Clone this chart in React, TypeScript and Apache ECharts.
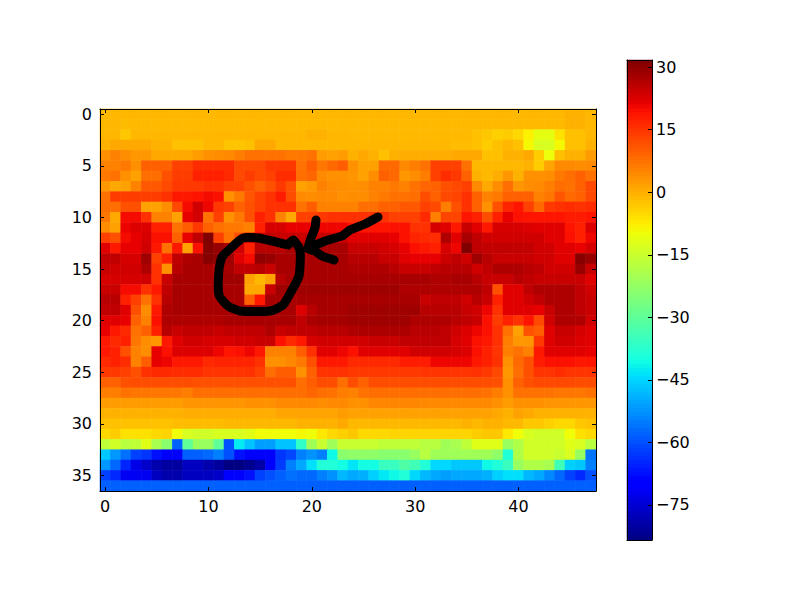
import React, { useEffect, useRef } from "react";
import * as echarts from "echarts";

const columns = Array.from({ length: 48 }, (_, i) => String(i));
const rowNames = Array.from({ length: 37 }, (_, i) => String(i));
const vMin = -83.4;
const vMax = 31.7;
const barTicks = [-75, -60, -45, -30, -15, 0, 15, 30];

const r0 = [-1,-1,-1,-1,-1,-1,-1,-1,-1,-1,-1,-1,-1,-1,-1,-1,-1,-1,-1,-1,-1,-1,-1,-1,-1,-1,-1,-1,-1,-1,-1,-1,-1,-1,-1,-1,-1,-1,-1,-1,-1,-1,-1,-1,-1,-0.3,-0.3,-1];
const r1 = [-1,-1,-1.5,-1.3,-1.3,-1.3,-1.3,-1.3,-1.3,-1.3,-1.3,-1.3,-1.3,-1.3,-1.3,-1.3,-1.3,-1.3,-1.3,-1.3,-1.3,-1.3,-1.3,-1.3,-1.3,-1.3,-1.3,-1.3,-1.3,-1.3,-1.3,-1.3,-1.3,-1.3,-1.3,-1.3,-1.3,-1.3,-1.3,-1.3,-1.3,-1.3,-1.3,-1.3,-1.3,-0.2,-0.2,-1];
const r2 = [-1,-1,-3,-1,-1,-1,-1,-1,-1,-1,-1,-1,-1,-1,-1,-1,-1,-1,-1,-1,-0.3,-0.3,-1,-1,-1.3,-1.3,-1.3,-1.3,-1.3,-1.3,-1.3,-1.3,-1.3,-1.3,-1.3,-1.3,-2,-3,-4,-3.5,-5,-8,-11,-11,-6,-2,-2,-1];
const r3 = [-0.2,0.8,0.8,0.8,0.8,-0.2,-0.5,-2,-2,-2,-1,-1,-2.5,-2.5,-2,0.8,0.8,-1,-1,-1,-1,-1,-1,-1,-1,-1,-1,-1,-1,-1,-1,-1,-1,-1,-1.6,-1.6,-2,-3.5,-2,-1,-2,-9,-13,-13,-9,-2,-2,-0.2];
const r4 = [3.7,5.7,4.2,2.8,2.8,0.8,0.8,0.8,0.8,2.3,3.7,4.2,4.7,6,7.6,7.6,7.6,7.6,6.7,6.7,7.6,2.3,1.8,2.3,-0.2,0.8,-0.2,-2,-0.2,0.3,0.3,0.3,0.3,0.3,0.8,0.8,0.8,-2,-2,-0.2,-0.2,0.8,-3.5,-10,-2,-0.2,-0.2,2.3];
const r5 = [5.7,5.7,6.7,3.7,9.6,9.6,9.6,13.5,13.5,16,16,16,16,12.5,12.5,12.5,14.5,14.5,14.5,7.6,10,7,8.6,10,3.7,1.8,1.8,8.6,8.6,4.7,6,7.6,13.5,13.5,13.5,7.6,-1.1,-1.1,-1.1,-1.1,-1.1,-0.2,-3.5,1.3,4.7,4.7,4.2,4.7];
const r6 = [6.7,7.6,3.7,1.8,8,8,11.5,14,14,17.4,17.4,17.4,16.4,12.5,14,12.5,13.5,16,16,8,9,4.7,3.7,3.7,3.2,1.8,4.2,9.6,8.6,2.8,4.2,6,13.5,16,14.5,9.6,-0.2,-1.1,0.3,2.8,-0.2,3.7,3.7,4.2,6.7,8,9.6,7.6];
const r7 = [2.8,0.8,1.8,5.7,10.6,10.6,12.5,14.5,14.5,14.5,15.4,15.4,13.5,13.5,11.5,9.6,11.5,14.5,11.5,1.8,2.8,5.7,4.7,4.2,3.7,4.2,5.7,5.7,6.7,5.7,7.6,9,9.6,11.5,12.5,13.5,4.7,0.8,4.2,8,3.2,4.2,4.7,6,8,7.6,9.6,12.5];
const r8 = [7.6,14,14,14,14,14,15.4,18.4,18.4,19,20,19.3,3.7,6.7,11,13.5,15.4,18,12,4.7,4.2,4.7,4.7,3.7,4.2,4.2,5.7,6.7,7.6,7.6,8,12,9.6,12.5,13,15.4,9.6,5.7,6.7,9.6,9.6,9.6,5.7,7,11,8.6,9.6,12.5];
const r9 = [8,8,11.5,11.5,1.8,1.8,4.2,12.5,20,23.7,20.8,14.5,13.5,9.6,11.5,13.5,15.4,15.4,15.4,7.6,10,5.7,5.7,5.7,5.7,8,8,9.6,9.6,10.6,10.6,13.5,12.5,6,11.5,15.4,9.6,3.7,11.5,17,18.9,13.5,8.6,14.5,15.4,16,15.4,16];
const r10 = [7,0.8,20,20,15.4,5.7,5.7,1.8,21.3,23.5,7.6,13.5,3.7,6.7,11.5,17.4,15.4,5.7,0.8,13.5,13.5,14.5,15.4,15.4,15.4,15.4,15.4,15.4,13.5,13.5,13.5,16.4,6,13,13,18.9,17.4,12,17.4,21.3,19.3,18.9,18.9,18.9,18.9,18,18,18.9];
const r11 = [4.2,1.8,21,22.4,22.4,17.4,17.4,7.6,10,14.5,9.6,7.6,6.7,6.7,5.7,17.4,23,23,21.3,21.3,21.3,20.8,20.8,20.8,18.9,18.9,18.9,18.9,19.3,19.3,15.4,15.4,23,22,18.4,24.5,22,18.4,23,23,23,22.4,22,22,22,18.9,17.4,22.4];
const r12 = [13.5,11.5,20,21.3,23,19.3,19.3,9.6,21.3,25.3,31.7,13.5,7.6,12,24,24,25,24.5,24.5,24.5,24.5,24.5,24.5,24.5,22,22,22,22,21.3,19.3,17,16.4,16,27,22,27.7,25.3,23.7,23.7,23.7,23.7,23.7,23.7,22,22,19.3,17.4,20.8];
const r13 = [22,18.4,21.3,21.3,23.7,18.4,7.6,18.4,1.8,19.3,31,29.5,27,23.7,17.4,26,26,26,27.7,27.7,27.7,27.7,27.7,27.7,24.5,24.5,24.5,23.7,23,21.3,19.3,18.4,17.4,23,20.8,31.7,25.3,25,25,25,25,25,23.7,23.7,22,22,21.3,23];
const r14 = [25.3,25.3,23,23,28.5,13.5,17.4,25.3,27,27.7,31,30,28.5,22,20,30,29.3,27.7,27.7,27.7,27.7,27.7,27.7,27.7,26,26,26,24.5,24.5,22,21.3,21.3,21.3,24,25.3,23.7,28.5,26,24.5,24.5,24.5,24.5,23.7,23.7,22,22,31,29.3];
const r15 = [24.5,23.7,23.7,23.7,27,15.4,3.7,26,27.7,27.7,27.7,25.3,27.7,25.3,25.3,26,24.5,27.7,27.7,27.7,27.7,27.7,27.7,27.7,27,27,27,27,26,24.5,24.5,24.5,25.3,26,26,26,23.7,25.3,27,27,27,26,25.5,23.7,23.7,23.7,29.3,24.5];
const r16 = [23,23,23,23,23.7,15.4,24.5,27.7,27.7,27.7,27.7,27,28.5,28.5,1.8,-1.1,1.8,26,27.7,27.7,27.7,27.7,27.7,27.7,27.7,27.7,27.7,27.7,27.7,27.7,27.7,27.7,27,27,27.7,27.7,26,24.5,24.5,24.5,26,25.3,24.5,24.5,24.5,24.5,24.5,22];
const r17 = [24.5,24.5,20,20,15.4,18.4,25.3,27.7,27.7,27.7,27.7,27.7,27.7,27.7,0.8,0.8,24.5,28.5,28.5,28.5,28.5,28.5,28.5,28.5,28.5,28.5,28.5,28.5,28.5,27,27,27,27,27,27,27,27,25.3,11.5,22,22,25.3,27,27,27,27,25.3,23.7];
const r18 = [26,26,17.4,13.5,7.6,15.4,26,27.7,27.7,27.7,27.7,27.7,27.7,27.7,9.6,18.4,27.7,27.7,27.7,27.7,27.7,27.7,27.7,27.7,27.7,27.7,27.7,27.7,27.7,27.7,27.7,24.5,25.3,25.3,25.3,23.7,26,24.5,17.4,22,22,23.7,25.3,27,27,27,25.3,24.5];
const r19 = [25.3,25.3,22,11.5,4.2,18.4,27,27.7,27.7,27.7,27.7,27.7,27.7,27.7,27.7,27.7,27.7,27.7,27.7,22.4,26,27.7,27.7,27.7,28.5,28.5,28.5,28.5,28.5,28.5,28.5,26,26,26,26,24.5,23.7,20.8,15.4,22,22,22,21.3,24.5,27,27,25.3,24.5];
const r20 = [22,22,21.3,9.6,5.7,19.3,27,27,27,27,27,27,27.7,27.7,27.7,27.7,27.7,27.7,27.7,25.3,27.5,28,28,28,28.5,28.5,28.5,28.5,28.5,28.5,27,27,27,27,26,25.3,24.5,19.3,14,17.4,15.4,18.9,12.5,23.7,27,27,27,23.7];
const r21 = [21.3,18.4,16.4,7.6,9.6,17.4,26,24.5,25.3,25.3,25.3,24.5,25.3,25.3,25.3,25.3,27,24.5,25.3,25.3,25.3,26,26,26,27,27.3,27.3,27.3,27.3,27.3,26,26,26,25.3,23.7,22.4,20.8,19.3,15.4,7.6,1.8,11.5,10,22,24.5,24.5,23,22];
const r22 = [18.4,16.4,17.4,7,4.2,2.8,18.4,22,23.7,23.7,23,23,23,23.7,23.7,24.5,24.5,19.3,16.4,18.4,23,23.7,23.7,23.7,23.7,23.7,24.5,24.5,24.5,25.3,25.3,25.3,25.3,25.3,23,22,19.3,18.4,15.4,6,2.8,3.2,14.5,22,23.7,23.7,22.4,22];
const r23 = [18.4,17.4,11.5,5.7,4.2,21.3,19.3,22.4,22.4,22.4,22.4,20.8,18.9,19.3,20.8,18.4,5.7,5.7,5.7,10,15.4,22,22,20.8,19.3,22,22,22,22,22,23.7,23.7,23.7,23.7,23,22.4,19.3,17.4,15,6,7.6,5.7,18.4,22,22,22,22,21.3];
const r24 = [16.4,17.4,16,5.7,10,21.3,20.8,18.4,18.4,18.4,16.4,17,17,17,17,15.4,3.7,3.7,5,6.7,11.5,18.4,18.4,18.4,16.4,16.4,16.4,16.4,16.4,17.9,17.9,17.9,20.8,20.8,20.8,20.8,18.4,17.4,15.4,3.7,8.6,11.5,17.9,19.3,19.3,19.3,18.4,18.9];
const r25 = [14.5,14.5,13.5,11.5,15.4,16.4,16.4,16,16,16,15,15,15,15,15.4,13.5,8,10,10,3.7,9.6,15,15.4,15.4,14.5,14.5,14.5,14.5,14.5,14.5,14.5,15,15,15,15,15,15.4,14.5,12.5,2.8,8,11.5,15,15,16,15,15,15];
const r26 = [9.6,9.6,11.5,12,12,12,12,12,12,11.5,11.5,11.5,11.5,11.5,11.5,11.5,11.5,11.5,11.5,8,10,12,12,8,12,9.6,12,12,12,12,12,12,12,12,12,12,12,12,11.5,3.7,9.6,11.5,12.5,12.5,12.5,12.5,12,12];
const r27 = [6,6,7.6,7,7,7,7,7,6,8,8,8,8,8,8,8,8,8,8,8,9,8,7.6,6,5.7,7.6,8,8,8,8,8,8,8,8,8,8,8,7.6,6,3.7,7.6,7.6,7.6,7.6,7,7,7,7.6];
const r28 = [2.3,2.3,2.3,2.3,2.3,2.3,2.3,2.3,3.2,3.2,3.2,3.2,3.2,3.2,3.7,3.7,3.7,4.7,4.7,4.7,4.7,4.2,4.7,4.7,3.7,3.7,5,5,5,5,5,4.7,4.7,4.7,4.7,4.7,4.7,4.7,3.7,2.3,3.7,3.7,3.7,3.2,3.2,3.2,3,2.8];
const r29 = [-0.2,-0.2,-0.2,-0.2,-0.2,-0.2,-0.2,-0.2,0.3,0.3,0.3,0.3,0.3,0.3,0.3,0.3,0.3,1.3,1.3,1.3,1.3,1.3,1.3,2.3,1.8,1.8,1.8,1.8,1.8,1.8,1.8,1.8,1.8,1.8,1.8,1.8,1.8,1.8,0.8,-0.2,1.8,0.8,-0.2,-0.2,-0.2,-0.2,-0.2,-0.2];
const r30 = [-2.1,-2.1,-2.1,-2.1,-2.1,-2.1,-2.1,-1.6,-1.6,-1.6,-1.6,-1.6,-1.1,-1.1,-1.1,-1.1,-1.1,-1.1,-1.1,-0.2,-0.2,-0.2,-0.2,0.8,-1.1,-1.1,-1.1,-1.1,-1.1,-1.1,-1.1,-1.1,-1.1,-1.1,-1.1,-0.2,-1.1,-0.2,-0.2,-1.1,-1.1,-3,-3,-4,-5,-5,-3,-2.1];
const r31 = [-5,-3.5,-6,-6,-6,-5,-4.5,-9.6,-13,-14,-14,-13,-13,-13,-11.8,-9.6,-9.6,-9.6,-9.6,-9,-9.6,-7,-5,-4,-3,-5,-5,-5,-4.5,-4.5,-4.5,-4.5,-4.5,-4.5,-4.5,-4.5,-3.5,-3,-3,-7,-9.6,-13,-14,-14,-14,-9.6,-6,-5];
const r32 = [-16.3,-14,-17.4,-16.3,-11.8,-19.6,-24,-58,-29.7,-21.8,-21.8,-29.7,-60,-42.5,-47,-51,-51,-47,-47,-36.4,-20.8,-15.2,-20.8,-15.2,-15.2,-15.2,-15.2,-16.3,-16.3,-16.3,-16.3,-17.4,-17.4,-20.8,-19.6,-16.3,-11.8,-11.8,-11.8,-21.8,-18.5,-14,-14,-14,-14,-11.8,-12.9,-17.4];
const r33 = [-46.4,-52,-56.4,-61.8,-63,-67.2,-71,-71,-58.2,-58.2,-57.3,-54.6,-60,-67.2,-71,-71,-71,-63,-61,-54.6,-52.5,-54.6,-40.9,-24,-23,-23,-23,-24,-24,-24,-21.8,-17.4,-20.8,-20.8,-20.8,-20.8,-20.8,-20.8,-23,-38.6,-18.5,-14,-14,-14,-15.2,-12.9,-21.8,-56];
const r34 = [-52,-57.3,-65,-73,-76,-79,-80,-80,-77,-77,-79,-80.2,-83,-83,-81.8,-79.5,-70,-62.5,-54.6,-50,-43.8,-38.6,-38.6,-40.4,-43,-40.4,-40.4,-35.3,-35.3,-32,-34.2,-38.6,-44.6,-44.6,-46.4,-46.4,-46.4,-40.9,-38.6,-35.3,-21.8,-18.5,-18.5,-19.6,-34.2,-45.5,-46.4,-54.6];
const r35 = [-61.8,-64.5,-72,-72,-72,-77,-79,-79,-77,-77,-77,-76,-70,-70,-67.2,-61.8,-60,-58.2,-56.4,-57.3,-57.3,-54.6,-52.5,-48.3,-50,-49.2,-45.5,-42.8,-40.9,-38.6,-44.6,-48.3,-50,-51,-50,-50,-50,-49.2,-45.5,-43.8,-43.8,-48.3,-50,-53.7,-57.3,-61.8,-64.5,-60];
const r36 = [-58.2,-58.2,-58.2,-58.2,-58.2,-58.2,-58.2,-58.2,-58.2,-58.2,-58.2,-58.2,-58.2,-58.2,-58.2,-58.2,-58.2,-58.2,-58.2,-58.2,-58.2,-58.2,-58.2,-58.2,-58.2,-58.2,-58.2,-58.2,-58.2,-58.2,-58.2,-58.2,-58.2,-58.2,-58.2,-58.2,-58.2,-58.2,-58.2,-58.2,-58.2,-58.2,-58.2,-58.2,-58.2,-58.2,-58.2,-58.2];
const rows = [r0,r1,r2,r3,r4,r5,r6,r7,r8,r9,r10,r11,r12,r13,r14,r15,r16,r17,r18,r19,r20,r21,r22,r23,r24,r25,r26,r27,r28,r29,r30,r31,r32,r33,r34,r35,r36];

const circleStroke = [[288,245],[272,241],[258,238],[243,238],[232,247],[222,257],[219,270],[219,295],[228,306],[240,311],[270,311],[283,305],[292,290],[299,276],[300,250],[293,240],[288,245]];
const arrowShaft = [[378,217],[365,224],[350,230],[342,236],[325,241],[309,248]];
const arrowHead = [[316,220],[315,228],[311,238],[308,249],[315,251],[322,256],[334,260]];

function ramp(x: number, pts: number[][]) {
  for (let i = 1; i < pts.length; i++) {
    if (x <= pts[i][0]) {
      const [a, va] = pts[i - 1];
      const [b, vb] = pts[i];
      return va + ((vb - va) * (x - a)) / (b - a);
    }
  }
  return pts[pts.length - 1][1];
}
function jet(f: number) {
  const r = ramp(f, [[0,0],[0.35,0],[0.66,1],[0.89,1],[1,0.5]]);
  const g = ramp(f, [[0,0],[0.125,0],[0.375,1],[0.64,1],[0.91,0],[1,0]]);
  const b = ramp(f, [[0,0.5],[0.11,1],[0.34,1],[0.65,0],[1,0]]);
  return `rgb(${Math.round(r * 255)},${Math.round(g * 255)},${Math.round(b * 255)})`;
}
const jetStops = Array.from({ length: 201 }, (_, i) => jet(i / 200));
const barLevels = Array.from({ length: 120 }, (_, i) => vMin + ((i + 0.5) / 120) * (vMax - vMin));

const FONT = "DejaVu Sans";
const black = "#000";

export default function App() {
  const ref = useRef<HTMLDivElement>(null);
  useEffect(() => {
    const chart = echarts.init(ref.current!, null, { renderer: "svg" });
    const line = { show: true, onZero: false, lineStyle: { color: black, width: 1 } };
    const tick = (interval: number) => ({
      show: true, inside: true, length: 4, interval, alignWithLabel: true,
      lineStyle: { color: black, width: 1 },
    });
    const scribble = (points: number[][], smooth: number) => ({
      type: "polyline", z: 100, shape: { points, smooth },
      style: { stroke: "#000", lineWidth: 9, fill: null, lineCap: "round", lineJoin: "round" },
    });
    chart.setOption({
      animation: false,
      backgroundColor: "#fff",
      grid: [
        { left: 100, top: 109, width: 496, height: 382, containLabel: false },
        { left: 627, top: 60, width: 25, height: 480, containLabel: false },
      ],
      xAxis: [
        { type: "category", data: columns, gridIndex: 0, position: "bottom", z: 5, axisLine: line, axisTick: tick(9), splitLine: { show: false },
          axisLabel: { interval: 9, color: black, fontFamily: FONT, fontSize: 16, margin: 7 } },
        { type: "category", data: columns, gridIndex: 0, position: "top", z: 5, axisLine: line, axisTick: tick(9), axisLabel: { show: false } },
        { type: "category", data: ["bar"], gridIndex: 1, position: "bottom", z: 5, axisLine: line, axisTick: { show: false }, axisLabel: { show: false } },
        { type: "category", data: ["bar"], gridIndex: 1, position: "top", z: 5, axisLine: line, axisTick: { show: false }, axisLabel: { show: false } },
      ],
      yAxis: [
        { type: "category", data: rowNames, inverse: true, gridIndex: 0, position: "left", z: 5, axisLine: line, axisTick: tick(4), splitLine: { show: false },
          axisLabel: { interval: 4, color: black, fontFamily: FONT, fontSize: 16, margin: 8 } },
        { type: "category", data: rowNames, inverse: true, gridIndex: 0, position: "right", z: 5, axisLine: line, axisTick: tick(4), axisLabel: { show: false } },
        { type: "category", data: barLevels.map((_, i) => String(i)), gridIndex: 1, position: "left", z: 5, axisLine: line, axisTick: { show: false }, axisLabel: { show: false } },
        { type: "value", gridIndex: 1, position: "right", min: vMin, max: vMax, z: 5, axisLine: line, splitLine: { show: false },
          axisTick: { show: true, inside: true, length: 4, customValues: barTicks, lineStyle: { color: black, width: 1 } },
          axisLabel: { customValues: barTicks, color: black, fontFamily: FONT, fontSize: 16, margin: 4,
            formatter: (v: number) => String(v).replace("-", "\u2212") } },
      ],
      visualMap: { show: false, type: "continuous", dimension: 2, seriesIndex: [0, 1], min: vMin, max: vMax, inRange: { color: jetStops } },
      series: [
        { type: "heatmap", xAxisIndex: 0, yAxisIndex: 0, emphasis: { disabled: true }, progressive: 0,
          data: rows.flatMap((row, y) => row.map((v, x) => [x, y, v])) },
        { type: "heatmap", xAxisIndex: 2, yAxisIndex: 2, emphasis: { disabled: true }, progressive: 0,
          data: barLevels.map((v, i) => [0, i, v]) },
      ],
      graphic: [scribble(circleStroke, 0.2), scribble(arrowShaft, 0.1), scribble(arrowHead, 0.1)],
    });
    return () => chart.dispose();
  }, []);
  return <div ref={ref} style={{ position: "absolute", left: 0, top: 0, width: 800, height: 600 }} />;
}
